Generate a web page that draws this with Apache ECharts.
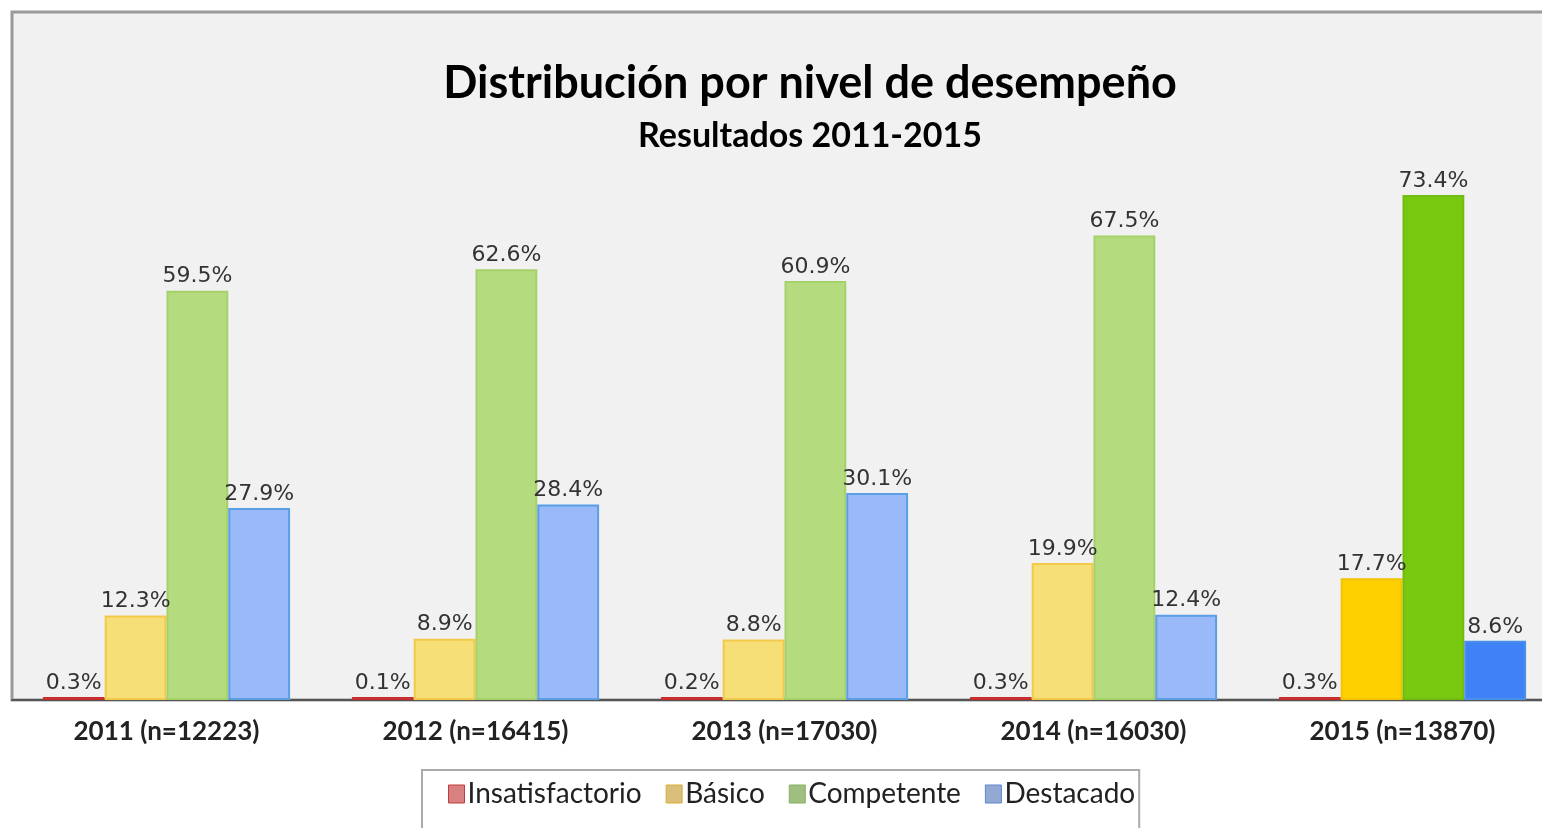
<!DOCTYPE html>
<html>
<head>
<meta charset="utf-8">
<script src="https://cdn.jsdelivr.net/npm/echarts@6/dist/echarts.min.js"></script>
<style>
  html, body { margin: 0; padding: 0; background: #fff; }
  #main { width: 1542px; height: 828px; }
</style>
</head>
<body>
<div id="main"></div>
<script>
const years = ["2011 (n=12223)", "2012 (n=16415)", "2013 (n=17030)", "2014 (n=16030)", "2015 (n=13870)"];
const insatisfactorio = [0.3, 0.1, 0.2, 0.3, 0.3];
const basico = [12.3, 8.9, 8.8, 19.9, 17.7];
const competente = [59.5, 62.6, 60.9, 67.5, 73.4];
const destacado = [27.9, 28.4, 30.1, 12.4, 8.6];

let dom = document.getElementById("main");
let myChart = echarts.init(dom, null, { renderer: "canvas" });

// last year is drawn with stronger colours
function withHighlight(values, strong, strongBorder) {
    return values.map(function (v, i) {
        if (i === values.length - 1) {
            return { value: v, itemStyle: { color: strong, borderColor: strongBorder } };
        }
        return v;
    });
}

let labelStyle = {
    show: true,
    position: "top",
    distance: 3,
    formatter: "{c}%",
    fontFamily: "DejaVu Sans",
    fontSize: 22,
    color: "#333",
};

let option = {
    animation: false,
    title: [{
        text: "Distribución por nivel de desempeño",
        left: 805,
        top: 56,
        textAlign: "center",
        textStyle: { fontFamily: "Lato", fontWeight: "bold", fontSize: 45, color: "#000" },
    }, {
        text: "Resultados 2011-2015",
        left: 805,
        top: 114,
        textAlign: "center",
        textStyle: { fontFamily: "Lato", fontWeight: "bold", fontSize: 34, color: "#000" },
    }],
    legend: {
        left: 422,
        top: 770,
        padding: [10, 4, 40, 26],
        backgroundColor: "#fff",
        borderColor: "#aaa",
        borderWidth: 2,
        borderRadius: 0,
        itemWidth: 16,
        itemHeight: 18,
        itemGap: 24,
        icon: "rect",
        textStyle: { fontFamily: "Lato", fontSize: 28, color: "#222", padding: [0, 0, 0, -2] },
        data: [
            { name: "Insatisfactorio", itemStyle: { color: "#d88082", borderColor: "#c43a3c", borderWidth: 1 } },
            { name: "Básico", itemStyle: { color: "#d8c07c", borderColor: "#e0aa30", borderWidth: 1 } },
            { name: "Competente", itemStyle: { color: "#9fbf80", borderColor: "#88b060", borderWidth: 1 } },
            { name: "Destacado", itemStyle: { color: "#94a8d4", borderColor: "#5a88d0", borderWidth: 1 } },
        ],
    },
    grid: {
        show: true,
        left: 12,
        top: 12,
        width: 1545,
        bottom: 128,
        backgroundColor: "#f1f1f1",
        borderColor: "#9a9a9a",
        borderWidth: 3,
        containLabel: false,
        outerBoundsMode: "none",
    },
    xAxis: {
        type: "category",
        data: years,
        axisLine: { lineStyle: { color: "#555", width: 2 } },
        axisTick: { show: false },
        axisLabel: {
            margin: 19,
            fontFamily: "Lato",
            fontWeight: "bold",
            fontSize: 26,
            color: "#222",
        },
    },
    yAxis: {
        type: "value",
        min: 0,
        max: 100,
        show: false,
        splitLine: { show: false },
    },
    series: [{
        name: "Insatisfactorio",
        type: "bar",
        barGap: "0%",
        barCategoryGap: "20%",
        barMinHeight: 3,
        data: insatisfactorio,
        itemStyle: { color: "#d03434", borderColor: "#c02a2a", borderWidth: 1 },
        label: labelStyle,
    }, {
        name: "Básico",
        type: "bar",
        data: withHighlight(basico, "#ffd000", "#f0c400"),
        itemStyle: { color: "#f7df78", borderColor: "#f2c94a", borderWidth: 2 },
        label: labelStyle,
    }, {
        name: "Competente",
        type: "bar",
        data: withHighlight(competente, "#77c80e", "#70bc10"),
        itemStyle: { color: "#b4dc7e", borderColor: "#a6d06a", borderWidth: 2 },
        label: labelStyle,
    }, {
        name: "Destacado",
        type: "bar",
        data: withHighlight(destacado, "#3f82f8", "#4a8ee8"),
        itemStyle: { color: "#9ab9f8", borderColor: "#5a9ee6", borderWidth: 2 },
        label: labelStyle,
    }],
};

myChart.setOption(option);
window.addEventListener("resize", myChart.resize);
</script>
</body>
</html>
